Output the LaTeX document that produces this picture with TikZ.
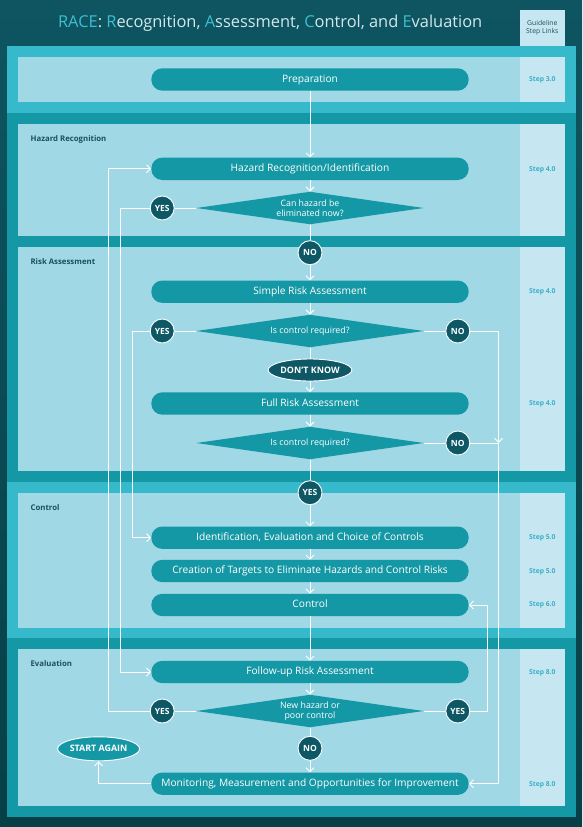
\documentclass[tikz,border=0pt]{standalone}
\usepackage{fontspec}
\setmainfont{Open Sans}
\usetikzlibrary{arrows.meta, shapes.geometric}
\definecolor{racedark}{HTML}{0E5561}
\definecolor{racedeep}{HTML}{073F47}
\definecolor{racecyan}{HTML}{36B9CB}
\definecolor{raceteal}{HTML}{1598A5}
\definecolor{racepanel}{HTML}{A0D8E6}
\definecolor{racelink}{HTML}{C6E7F1}
\definecolor{racenode}{HTML}{0E5866}
\definecolor{raceletter}{HTML}{3DBED2}
\definecolor{racetitle}{HTML}{D2E8ED}
\definecolor{racelabel}{HTML}{1E4F5A}
\definecolor{racestep}{HTML}{3AAFC7}
\newcommand{\initial}[1]{\textcolor{raceletter}{#1}}

\begin{document}
\begin{tikzpicture}[x=1pt, y=-1pt,
  stepbox/.style={fill=raceteal, rounded corners=11pt, minimum width=317.4pt,
    minimum height=22.4pt, inner sep=0pt, text=white, text height=7.6pt, text depth=2pt,
    font=\fontsize{10.2}{12}\selectfont},
  decision/.style={diamond, fill=raceteal, minimum width=227.3pt,
    minimum height=32.6pt, inner sep=0pt},
  query/.style={text=white, align=center, font=\fontsize{8.8}{9.8}\selectfont},
  answer/.style={circle, fill=racenode, draw=white, line width=0.9pt, minimum size=24pt,
    inner sep=0pt, text=white, font=\bfseries\fontsize{8.5}{9}\selectfont},
  oval/.style={ellipse, draw=white, line width=0.9pt, minimum width=82pt,
    minimum height=22pt, inner sep=0pt, text=white, font=\bfseries\fontsize{8.9}{9}\selectfont},
  flow/.style={draw=white, line width=0.9pt, -{Straight Barb[length=4pt, width=8pt]}},
  link/.style={draw=white, line width=0.9pt},
  section/.style={anchor=west, inner sep=0pt, text=racelabel, font=\bfseries\fontsize{7.8}{9}\selectfont},
  steplink/.style={text=racestep, font=\bfseries\fontsize{6.8}{8}\selectfont}]
  \useasboundingbox (0,0) rectangle (582,827);
  \shade[top color=racedark, bottom color=racedeep] (0,0) rectangle (582,827);

  \foreach \a/\b/\c in {45.7/112.7/racecyan, 112.7/241.3/raceteal, 241.3/482/raceteal,
      482/637.7/racecyan, 637.7/816.7/raceteal}
    \fill[\c] (7.4,\a) rectangle (576,\b);
  \foreach \a/\b in {57/101.7, 124/236, 246.7/470.7, 492.7/627.7, 649/805.7} {
    \fill[racepanel] (17.8,\a) rectangle (520,\b);
    \fill[racelink] (520,\a) rectangle (564.6,\b);
  }
  \fill[racelink] (520,10) rectangle (564.6,45.7);

  \node[text=racetitle, font=\fontsize{16.4}{19}\selectfont] (title) at (270.2,23.5)
    {\initial{RACE}: \initial{R}ecognition, \initial{A}ssessment, \initial{C}ontrol, and \initial{E}valuation};
  \node[text=racelabel, align=center, font=\fontsize{6.8}{8}\selectfont] (guide)
    at (542.3,27.8) {Guideline\\Step Links};
  \foreach \y/\t [count=\i] in {139/Hazard Recognition, 262/Risk Assessment,
      507.7/Control, 664/Evaluation}
    \node[section] (sec\i) at (30.4,\y) {\t};
  \foreach \y/\s [count=\i] in {79.5/3.0, 170/4.0, 291.7/4.0, 403.5/4.0, 537.7/5.0,
      571.5/5.0, 605/6.0, 672.5/8.0, 784.5/8.0}
    \node[steplink] (step\i) at (542.3,\y) {Step \s};

  \node[stepbox] (prep) at (310,79.5) {Preparation};
  \node[stepbox] (hazard) at (310,168.8) {Hazard Recognition/Identification};
  \node[decision, label={[query]center:{Can hazard be\\eliminated now?}}] (elim) at (310,208) {};
  \node[answer] (elimyes) at (162.2,208) {YES};
  \node[answer] (elimno) at (310,252.7) {NO};
  \node[stepbox] (simple) at (310,291.7) {Simple Risk Assessment};
  \node[decision, label={[query]center:Is control required?}] (ctrla) at (310,331) {};
  \node[answer] (ctrlayes) at (162.2,331) {YES};
  \node[answer] (ctrlano) at (457.8,331) {NO};
  \node[oval, fill=racenode] (unsure) at (310,370) {DON’T KNOW};
  \node[stepbox] (full) at (310,403.5) {Full Risk Assessment};
  \node[decision, label={[query]center:Is control required?}] (ctrlb) at (310,443) {};
  \node[answer] (ctrlbno) at (457.8,443) {NO};
  \node[answer] (ctrlbyes) at (310,492.7) {YES};
  \node[stepbox] (choice) at (310,537.7) {Identification, Evaluation and Choice of Controls};
  \node[stepbox] (targets) at (310,571) {Creation of Targets to Eliminate Hazards and Control Risks};
  \node[stepbox] (control) at (310,605) {Control};
  \node[stepbox] (followup) at (310,672) {Follow-up Risk Assessment};
  \node[decision, label={[query]center:{New hazard or\\poor control}}] (newhaz) at (310,711) {};
  \node[answer] (newhazyes) at (162.2,711) {YES};
  \node[answer] (newhazyesr) at (457.8,711) {YES};
  \node[answer] (newhazno) at (310,748.3) {NO};
  \node[stepbox] (monitor) at (310,783.7) {Monitoring, Measurement and Opportunities for Improvement};
  \node[oval, fill=raceteal, minimum height=24pt] (again) at (98.6,748.8) {START AGAIN};

  \coordinate (lanea) at (108,0);
  \coordinate (laneb) at (120,0);
  \coordinate (lanec) at (132,0);
  \coordinate (lanee) at (487,0);
  \coordinate (merge) at (498.5,443);

  \draw[flow] (prep) -- (hazard);
  \draw[flow] (hazard) -- (elim);
  \draw[link] (elim) -- (elimyes);
  \draw[flow] (elimyes.west) -- (elimyes.west -| laneb) |- (followup.west);
  \draw[link] (elim) -- (elimno);
  \draw[flow] (elimno) -- (simple);
  \draw[flow] (simple) -- (ctrla);
  \draw[link] (ctrla) -- (ctrlayes);
  \draw[flow] (ctrlayes.west) -- (ctrlayes.west -| lanec) |- (choice.west);
  \draw[link] (ctrla) -- (ctrlano);
  \draw[flow] (ctrlano.east) -| (merge);
  \draw[link] (ctrlbno) -- (merge);
  \draw[flow] (merge) |- (monitor.east);
  \draw[link] (ctrla) -- (unsure);
  \draw[flow] (unsure) -- (full);
  \draw[flow] (full) -- (ctrlb);
  \draw[link] (ctrlb) -- (ctrlbno);
  \draw[link] (ctrlb) -- (ctrlbyes);
  \draw[flow] (ctrlbyes) -- (choice);
  \draw[flow] (choice) -- (targets);
  \draw[flow] (targets) -- (control);
  \draw[flow] (control) -- (followup);
  \draw[flow] (followup) -- (newhaz);
  \draw[link] (newhaz) -- (newhazyes);
  \draw[flow] (newhazyes.west) -- (newhazyes.west -| lanea) |- (hazard.west);
  \draw[link] (newhaz) -- (newhazyesr);
  \draw[flow] (newhazyesr.east) -- (newhazyesr.east -| lanee) |- (control.east);
  \draw[link] (newhaz) -- (newhazno);
  \draw[flow] (newhazno) -- (monitor);
  \draw[flow] (monitor.west) -| (again.south);
\end{tikzpicture}
\end{document}
